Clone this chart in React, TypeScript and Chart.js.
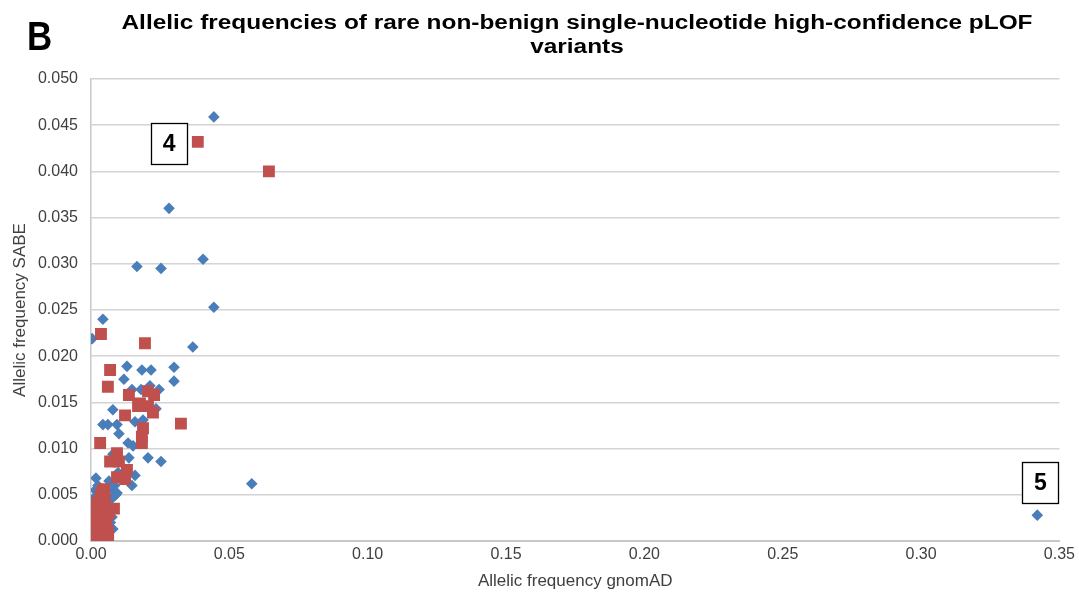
import React, { useEffect, useRef } from "react";
import { Chart, registerables } from "chart.js";

Chart.register(...registerables);

// Blue diamonds: all variants (gnomAD AF, SABE AF)
const blueX = [
  0.0444, 0.0282, 0.0405, 0.0166, 0.0253, 0.0444, 0.0043, 0.0004, 0.0368, 0.0130,
  0.0184, 0.0217, 0.0300, 0.0119, 0.0300, 0.0148, 0.0181, 0.0213, 0.0246, 0.0235,
  0.0079, 0.0159, 0.0188, 0.0043, 0.0061, 0.0094, 0.0101, 0.0134, 0.0152, 0.0206,
  0.0253, 0.0137, 0.0079, 0.0581, 0.0018, 0.0159, 0.0148, 0.0098, 0.0025, 0.0094,
  0.0079, 0.0079, 0.0076, 0.3420, 0.0002, 0.0010, 0.0020, 0.0030, 0.0040, 0.0050,
  0.0060, 0.0070, 0.0060, 0.0070, 0.0080, 0.0090, 0.0015, 0.0025, 0.0035, 0.0065,
  0.0085, 0.0012,
];
const blueY = [
  0.0459, 0.0360, 0.0305, 0.0297, 0.0295, 0.0253, 0.0240, 0.0219, 0.0210, 0.0189,
  0.0185, 0.0185, 0.0188, 0.0175, 0.0173, 0.0164, 0.0164, 0.0168, 0.0164, 0.0143,
  0.0142, 0.0129, 0.0131, 0.0126, 0.0126, 0.0126, 0.0116, 0.0106, 0.0103, 0.0090,
  0.0086, 0.0090, 0.0094, 0.0062, 0.0068, 0.0071, 0.0060, 0.0074, 0.0055, 0.0052,
  0.0047, 0.0013, 0.0026, 0.0028, 0.0005, 0.0030, 0.0045, 0.0015, 0.0025, 0.0030,
  0.0040, 0.0020, 0.0010, 0.0045, 0.0055, 0.0050, 0.0055, 0.0060, 0.0005, 0.0065,
  0.0060, 0.0047,
];

// Red squares: highlighted variants
const redX = [
  0.0386, 0.0643, 0.0036, 0.0195, 0.0069, 0.0061, 0.0206, 0.0228, 0.0137, 0.0177,
  0.0206, 0.0170, 0.0224, 0.0123, 0.0325, 0.0188, 0.0184, 0.0184, 0.0033, 0.0094,
  0.0069, 0.0101, 0.0130, 0.0094, 0.0123, 0.0047, 0.0083, 0.0005, 0.0010, 0.0015,
  0.0020, 0.0025, 0.0030, 0.0035, 0.0040, 0.0045, 0.0050, 0.0055, 0.0060, 0.0005,
  0.0010, 0.0015, 0.0020, 0.0008, 0.0030, 0.0040, 0.0045, 0.0050, 0.0035, 0.0055,
  0.0025, 0.0012, 0.0062, 0.0018, 0.0028, 0.0048, 0.0065, 0.0038, 0.0002, 0.0042,
  0.0052,
];
const redY = [
  0.0432, 0.0400, 0.0224, 0.0214, 0.0185, 0.0167, 0.0162, 0.0158, 0.0158, 0.0149,
  0.0146, 0.0146, 0.0139, 0.0136, 0.0127, 0.0122, 0.0113, 0.0106, 0.0106, 0.0095,
  0.0086, 0.0086, 0.0077, 0.0069, 0.0067, 0.0056, 0.0035, 0.0003, 0.0008, 0.0012,
  0.0005, 0.0015, 0.0008, 0.0020, 0.0010, 0.0004, 0.0018, 0.0025, 0.0012, 0.0020,
  0.0025, 0.0030, 0.0035, 0.0038, 0.0030, 0.0040, 0.0028, 0.0045, 0.0050, 0.0035,
  0.0042, 0.0017, 0.0005, 0.0002, 0.0022, 0.0052, 0.0030, 0.0006, 0.0012, 0.0055,
  0.0008,
];

// Callout labels anchored at data coordinates
const calloutText = ["4", "5"];
const calloutX = [0.0282, 0.3431];
const calloutY = [0.0430, 0.00633];

const titleLines = [
  "Allelic frequencies of rare non-benign single-nucleotide high-confidence pLOF",
  "variants",
];
const panelLetter = "B";
const xTitle = "Allelic frequency gnomAD";
const yTitle = "Allelic frequency SABE";

const BLUE = "rgb(74,126,187)";
const RED = "rgb(192,80,77)";
const FONT = "'Liberation Sans', Arial, sans-serif";

const decorPlugin = {
  id: "decor",
  afterDraw(chart: any) {
    const ctx = chart.ctx as CanvasRenderingContext2D;
    const xs = chart.scales.x;
    const ys = chart.scales.y;
    ctx.save();
    // panel letter
    ctx.fillStyle = "#000";
    ctx.textBaseline = "alphabetic";
    ctx.textAlign = "left";
    ctx.save();
    ctx.translate(27, 50);
    ctx.scale(0.85, 1);
    ctx.font = `bold 41px ${FONT}`;
    ctx.fillText(panelLetter, 0, 0);
    ctx.restore();
    // title
    ctx.font = `bold 20px ${FONT}`;
    ctx.textAlign = "center";
    const cx = 577;
    titleLines.forEach((t, i) => {
      ctx.save();
      ctx.translate(cx, 29 + i * 24);
      ctx.scale(1.22, 1);
      ctx.fillText(t, 0, 0);
      ctx.restore();
    });
    // callout boxes
    calloutText.forEach((t, i) => {
      const px = xs.getPixelForValue(calloutX[i]);
      const py = ys.getPixelForValue(calloutY[i]);
      const w = 36, h = 41;
      ctx.fillStyle = "#fff";
      ctx.fillRect(px - w / 2, py - h / 2, w, h);
      ctx.strokeStyle = "#000";
      ctx.lineWidth = 1.3;
      ctx.strokeRect(Math.round(px - w / 2) + 0.5, Math.round(py - h / 2) + 0.5, w, h);
      ctx.fillStyle = "#000";
      ctx.font = `bold 23px ${FONT}`;
      ctx.textAlign = "center";
      ctx.textBaseline = "middle";
      ctx.fillText(t, px, py + 1);
    });
    ctx.restore();
  },
};

export default function App() {
  const ref = useRef<HTMLCanvasElement | null>(null);
  useEffect(() => {
    document.body.style.margin = "0";
    const canvas = ref.current!;
    const chart = new Chart(canvas, {
      type: "scatter",
      data: {
        datasets: [
          {
            label: "highlighted",
            data: redX.map((x, i) => ({ x, y: redY[i] })),
            pointStyle: "rect",
            pointRadius: 8.4,
            backgroundColor: RED,
            borderColor: RED,
            borderWidth: 0,
            order: 0,
          },
          {
            label: "all",
            data: blueX.map((x, i) => ({ x, y: blueY[i] })),
            pointStyle: "rectRot",
            pointRadius: 5.8,
            backgroundColor: BLUE,
            borderColor: BLUE,
            borderWidth: 0,
            order: 1,
          },
        ],
      },
      options: {
        animation: false,
        responsive: false,
        devicePixelRatio: 1,
        layout: { padding: { top: 79, right: 19, left: 0, bottom: 0 } },
        plugins: {
          legend: { display: false },
          tooltip: { enabled: false },
          title: { display: false },
        },
        scales: {
          x: {
            type: "linear",
            min: 0,
            max: 0.35,
            ticks: {
              stepSize: 0.05,
              padding: 4,
              color: "#404040",
              font: { family: FONT, size: 16 },
              callback: (v: any) => Number(v).toFixed(2),
            },
            grid: { display: false, drawTicks: false },
            border: { display: true, color: "#c8c8c8", width: 2 },
            title: {
              display: true,
              text: xTitle,
              color: "#404040",
              font: { family: FONT, size: 17 },
              padding: { top: 4, bottom: 7 },
            },
            afterFit: (s: any) => {
              s.height = 58;
            },
          },
          y: {
            type: "linear",
            min: 0,
            max: 0.05,
            ticks: {
              stepSize: 0.005,
              padding: 13,
              color: "#404040",
              font: { family: FONT, size: 16 },
              callback: (v: any) => Number(v).toFixed(3),
            },
            grid: { color: "#d4d4d4", lineWidth: 1.5, drawTicks: false },
            border: { display: true, color: "#c8c8c8", width: 1.5 },
            title: {
              display: true,
              text: yTitle,
              color: "#404040",
              font: { family: FONT, size: 17 },
              padding: { top: 10, bottom: 0 },
            },
            afterFit: (s: any) => {
              s.width = 91;
            },
          },
        },
      },
      plugins: [decorPlugin],
    });
    return () => chart.destroy();
  }, []);
  return <canvas ref={ref} width={1079} height={599} style={{ display: "block" }} />;
}
